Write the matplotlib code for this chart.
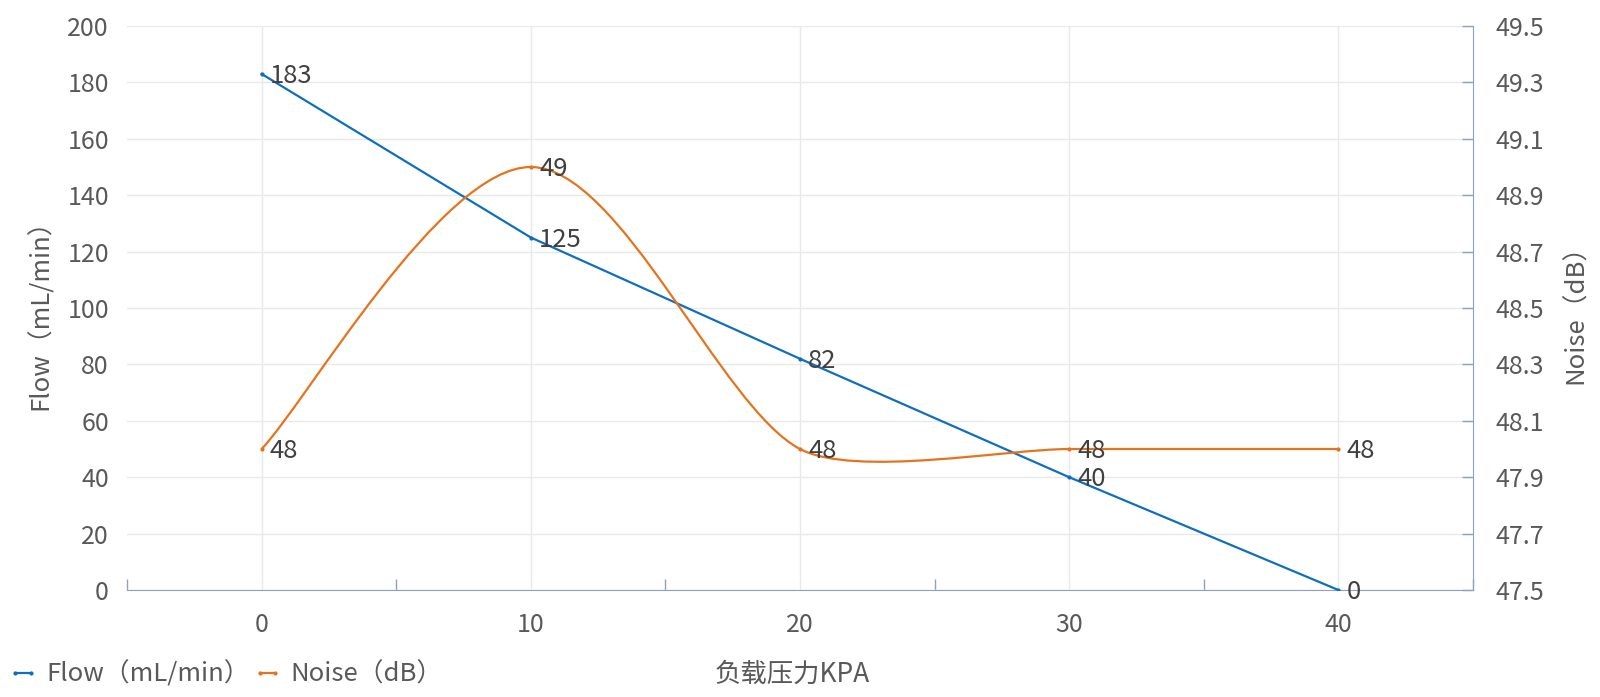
import matplotlib
matplotlib.use("Agg")
import matplotlib.pyplot as plt
from matplotlib.path import Path
from matplotlib.patches import PathPatch
from matplotlib.lines import Line2D
import numpy as np

plt.rcParams['font.family'] = ['Noto Sans CJK SC', 'DejaVu Sans']

# 数据
pressure = ['0', '10', '20', '30', '40']
flow = [183, 125, 82, 40, 0]
noise = [48, 49, 48, 48, 48]

blue = '#0F6FBF'
orange = '#E4741E'
grid_c = '#E9E9E9'
txt_c = '#595959'
lab_c = '#404040'
axis_c = '#8EA2BD'

fig = plt.figure(figsize=(16, 6.97), dpi=100)
ax1 = fig.add_axes([0.0794, 0.1535, 0.8412, 0.8092])
ax2 = ax1.twinx()

x = np.arange(len(pressure))

# 坐标轴范围（平滑曲线需要先确定）
ax1.set_xlim(-0.5, 4.5)
ax1.set_ylim(0, 200)
ax2.set_ylim(47.5, 49.5)

# Flow 折线
ax1.plot(x, flow, color=blue, lw=1.6, marker='.', ms=4, zorder=3)
for xi, v in zip(x, flow):
    ax1.annotate(str(v), (xi, v), xytext=(6, -1.5), textcoords='offset points',
                 ha='left', va='center', fontsize=18.5, color=lab_c)

# Noise 平滑曲线：在像素空间里算 Bezier 控制点，再换回数据坐标
pts = ax2.transData.transform(np.column_stack([x, noise]).astype(float))
n = len(pts)
f = 0.23
verts = [pts[0]]
codes = [Path.MOVETO]
for i in range(n - 1):
    p1, p2 = pts[i], pts[i + 1]
    seg = np.linalg.norm(p2 - p1)
    if i == 0:
        c1 = p1 + (p2 - p1) / 6.0
    else:
        d = pts[i + 1] - pts[i - 1]
        c1 = p1 + f * seg * d / np.linalg.norm(d)
    if i + 2 >= n:
        c2 = p2 - (p2 - p1) / 6.0
    else:
        d = pts[i + 2] - pts[i]
        c2 = p2 - f * seg * d / np.linalg.norm(d)
    verts += [c1, c2, p2]
    codes += [Path.CURVE4] * 3
verts = ax2.transData.inverted().transform(np.array(verts))
ax2.add_patch(PathPatch(Path(verts, codes), facecolor='none', edgecolor=orange, lw=1.6, zorder=3))
ax2.plot(x, noise, ls='none', color=orange, marker='.', ms=4, zorder=4)
for xi, v in zip(x, noise):
    ax2.annotate(str(v), (xi, v), xytext=(6, -1.5), textcoords='offset points',
                 ha='left', va='center', fontsize=18.5, color=lab_c)

# 刻度
ax1.set_yticks(np.arange(0, 201, 20))
ax2.set_yticks(np.arange(47.5, 49.51, 0.2))
ax2.set_yticklabels([f'{v:.1f}' for v in np.arange(47.5, 49.51, 0.2)])

ax1.set_xticks(x)
ax1.set_xticklabels(pressure)
ax1.set_xticks(np.arange(-0.5, 4.6, 1), minor=True)
ax1.tick_params(axis='x', which='major', length=0, labelsize=18, labelcolor=txt_c, pad=16)
ax1.tick_params(axis='x', which='minor', length=8, direction='in', color=axis_c, width=1)
ax1.tick_params(axis='y', length=0, labelsize=18, labelcolor=txt_c, pad=13)
ax2.tick_params(axis='y', length=8, direction='in', color=axis_c, width=1,
                labelsize=18, labelcolor=txt_c, pad=16)

ax1.grid(True, which='major', color=grid_c, lw=1)
ax1.set_axisbelow(True)

for s in ['top', 'left', 'right']:
    ax1.spines[s].set_visible(False)
ax1.spines['bottom'].set_color(axis_c)
for s in ['top', 'left', 'bottom']:
    ax2.spines[s].set_visible(False)
ax2.spines['right'].set_color(axis_c)

ax1.set_ylabel('Flow（mL/min）', fontsize=18.5, color=txt_c, labelpad=10)
ax2.set_ylabel('Noise（dB）', fontsize=18.5, color=txt_c, labelpad=14)
fig.text(0.495, 0.033, '负载压力KPA', ha='center', va='center', fontsize=19, color=txt_c)

handles = [Line2D([0], [0], color=blue, lw=1.6, marker='.', ms=4),
           Line2D([0], [0], color=orange, lw=1.6, marker='.', ms=4)]
fig.legend(handles, ['Flow（mL/min）', 'Noise（dB）'], loc='center left',
           bbox_to_anchor=(0.0, 0.032), ncol=2, frameon=False, fontsize=18.5,
           labelcolor=txt_c, handlelength=1.2, numpoints=2, handletextpad=0.3,
           columnspacing=0.1, borderaxespad=0.0, borderpad=0.3)

fig.savefig('out.png', dpi=100, facecolor='white')
